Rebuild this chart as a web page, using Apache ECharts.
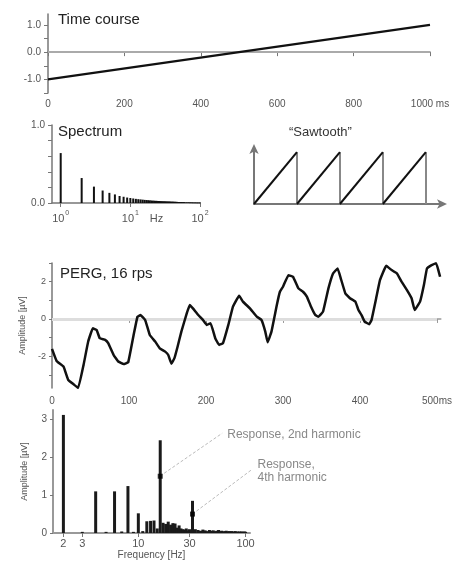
<!DOCTYPE html>
<html><head><meta charset="utf-8">
<script src="https://cdn.jsdelivr.net/npm/echarts@6/dist/echarts.min.js"></script>
<style>html,body{margin:0;padding:0;background:#fff}#c{width:455px;height:561px}</style>
</head><body><div id="c"></div>
<script>
// ---- Time course ----
const tcTime = [0, 1000];
const tcValue = [-1.0, 1.0];
const tcXTicks = [0, 200, 400, 600, 800, 1000];
const tcYTicks = [-1.5, -1, -0.5, 0, 0.5, 1];
const tcYLabels = [-1, 0, 1];

// ---- Spectrum (sawtooth harmonics) ----
const specFreq = [1,2,3,4,5,6,7,8,9,10,11,12,13,14,15,16,17,18,19,20,21,22,23,24,25,26,27,28,29,30,
  31,32,33,34,35,36,37,38,39,40,41,42,43,44,45,46,47,48,49,50,52,54,56,58,60,64,68,72,76,80,85,90,95,100];
const specAmp = [0.64,0.32,0.21,0.16,0.13,0.11,0.09,0.08,0.07,0.064,0.058,0.053,0.049,0.046,0.043,0.04,0.038,0.036,0.034,0.032,
  0.03,0.029,0.028,0.027,0.026,0.025,0.024,0.023,0.022,0.021,0.021,0.02,0.019,0.019,0.018,0.018,0.017,0.017,0.016,0.016,
  0.016,0.015,0.015,0.015,0.014,0.014,0.014,0.013,0.013,0.013,0.012,0.012,0.011,0.011,0.011,0.01,0.01,0.009,0.009,0.008,0.008,0.007,0.007,0.006];
const specXLabelVals = [1, 10, 23.7, 100];
const specXLabelText = ['{b|10}{s|0}', '{b|10}{s|1}', '{b|Hz}', '{b|10}{s|2}'];
const specXTicks = [1, 10, 100];
const specYTicks = [0, 0.2, 0.4, 0.6, 0.8, 1.0];
const specYLabels = [0, 1.0];

// ---- Sawtooth schematic ----
const sawStart = [0, 1, 2, 3];
const sawEnd = [1, 2, 3, 4];
const sawPeak = 1;

// ---- PERG, 16 rps ----
const pergTime = [0,6,15,21,28,34,41,47,53,58,62,69,73,80,86,93,99,106,111,115,121,127,134,140,147,151,155,159,163,168,
  175,179,183,190,196,201,206,212,217,222,229,235,243,248,257,266,272,277,280,285,292,296,300,307,313,320,326,331,336,342,
  346,352,359,365,371,375,381,387,394,398,402,406,412,415,421,426,434,441,448,454,461,467,471,478,483,487,493,499,504];
const pergValue = [-1.6,-2.25,-2.55,-3.26,-3.5,-3.7,-2.46,-1.21,-0.5,-0.59,-1.03,-1.12,-1.3,-1.93,-2.28,-2.42,-2.32,-0.86,0.12,0.21,
  -0.05,-0.86,-1.21,-1.57,-1.75,-1.93,-2.4,-2.1,-1.5,-0.68,
  0.3,0.75,0.57,0.21,-0.05,-0.32,-0.23,-1.03,-1.39,-1.3,-0.32,0.66,1.25,0.93,0.57,0.12,-0.05,-0.68,-1.25,-0.68,
  0.75,1.46,1.73,2.35,2.26,1.64,1.46,1.2,0.7,0.21,
  0.12,0.39,1.64,2.44,2.71,2.18,1.37,1.11,0.93,0.48,0.21,-0.14,-0.28,-0.05,1.11,2.09,2.85,2.62,2.44,2.0,1.55,1.11,0.48,0.93,1.82,2.71,2.89,2.98,2.26];
const pergXTicks = [0, 100, 200, 300, 400, 500];
const pergYTicks = [-3, -2, -1, 0, 1, 2, 3];
const pergYLabels = [-2, 0, 2];

// ---- PERG amplitude spectrum ----
const fftFreq = [2,3,4,5,6,7,8,9,10,11,12,13,14,15,16,17,18,19,20,21,22,23,24,25,26,27,28,29,30,31,32,
  34,36,38,40,42,44,46,48,50,52,54,56,58,60,62,64,66,68,70,72,74,76,78,80,82,84,86,88,90,92,94,96,98,100];
const fftAmp = [3.12,0.03,1.1,0.03,1.1,0.04,1.24,0.03,0.52,0.05,0.31,0.32,0.33,0.12,2.45,0.27,0.24,0.3,0.22,0.26,
  0.25,0.14,0.2,0.12,0.1,0.09,0.12,0.07,0.1,0.08,0.85,
  0.1,0.08,0.06,0.09,0.07,0.05,0.08,0.06,0.07,0.05,0.06,0.08,0.05,0.06,0.04,0.05,0.06,0.04,0.05,0.04,0.05,0.03,0.04,0.05,0.03,0.04,0.03,0.04,0.03,0.04,0.03,0.03,0.04,0.03];
const fftXTicks = [2, 3, 10, 30, 100];
const fftYTicks = [0, 1, 2, 3];
const harmonicFreq = [16, 32];
const harmonicMark = [1.5, 0.5];
const harmonicLabel = ['Response, 2nd harmonic', 'Response,\n4th harmonic'];

const FONT = 'Liberation Sans, Arial, sans-serif';
const AX = '#777';
const LBL = '#555';

function axisBase(extra) {
  return Object.assign({
    splitLine: {show: false},
    axisLine: {show: true, lineStyle: {color: AX, width: 1.5}},
    axisTick: {show: true, length: 4, lineStyle: {color: AX}},
    axisLabel: {color: LBL, fontSize: 10, fontFamily: FONT}
  }, extra);
}
function merge(a, b) { return Object.assign({}, a, b); }

function barRenderer(width, color) {
  return function (params, api) {
    const p0 = api.coord([api.value(0), 0]);
    const p1 = api.coord([api.value(0), api.value(1)]);
    return {type: 'rect', shape: {x: p0[0] - width / 2, y: p1[1], width: width, height: Math.max(p0[1] - p1[1], 0.8)},
      style: {fill: color}};
  };
}

const chart = echarts.init(document.getElementById('c'), null, {renderer: 'canvas'});

const titleStyle = {fontSize: 15, fontWeight: 'normal', color: '#222', fontFamily: FONT};

const option = {
  animation: false,
  backgroundColor: '#fff',
  title: [
    {text: 'Time course', left: 58, top: 12, padding: 0, textStyle: titleStyle},
    {text: 'Spectrum', left: 58, top: 124, padding: 0, textStyle: titleStyle},
    {text: '\u201CSawtooth\u201D', left: 289, top: 126, padding: 0, textStyle: merge(titleStyle, {fontSize: 13, color: '#333'})},
    {text: 'PERG, 16 rps', left: 60, top: 266, padding: 0, textStyle: titleStyle}
  ],
  grid: [
    {left: 48, top: 14, width: 382, height: 79},
    {left: 52, top: 125, width: 148, height: 78},
    {left: 254, top: 148, width: 189, height: 56},
    {left: 52, top: 263, width: 389, height: 125},
    {left: 53, top: 410, width: 197, height: 127}
  ],
  xAxis: [
    axisBase({gridIndex: 0, type: 'value', min: 0, max: 1000,
      axisTick: {show: true, length: 4, lineStyle: {color: AX}, customValues: tcXTicks},
      axisLabel: {color: LBL, fontSize: 10, fontFamily: FONT, margin: 6, customValues: tcXTicks,
        formatter: v => v === 1000 ? '1000 ms' : String(v)}}),
    axisBase({gridIndex: 1, type: 'log', logBase: 10, min: 0.75, max: 100,
      axisTick: {show: true, length: 4, lineStyle: {color: AX}, customValues: specXTicks},
      axisLabel: {color: LBL, fontSize: 10, fontFamily: FONT, margin: 6, customValues: specXLabelVals,
        rich: {b: {fontSize: 11, color: LBL, fontFamily: FONT, padding: [4, 0, 0, 0]}, s: {fontSize: 7, color: LBL, fontFamily: FONT, padding: [0, 0, 6, 1]}},
        formatter: v => { const i = specXLabelVals.findIndex(s => Math.abs(s - v) < 1e-6 * Math.max(1, s)); return i >= 0 ? specXLabelText[i] : ''; }}}),
    {gridIndex: 2, type: 'value', min: 0, max: 4.4, splitLine: {show: false},
      axisLine: {show: true, onZero: false, symbol: ['none', 'arrow'], symbolSize: [7, 10], symbolOffset: [0, 4], lineStyle: {color: '#777', width: 2}},
      axisTick: {show: false}, axisLabel: {show: false}},
    axisBase({gridIndex: 3, type: 'value', min: 0, max: 505,
      axisLine: {show: true, lineStyle: {color: '#999', width: 1.5}},
      axisTick: {show: true, length: 4, lineStyle: {color: '#999'}, customValues: pergXTicks},
      axisLabel: {color: LBL, fontSize: 10, fontFamily: FONT, margin: 8, customValues: pergXTicks,
        formatter: v => v === 500 ? '500ms' : String(v)}}),
    axisBase({gridIndex: 4, type: 'log', logBase: 10, min: 1.6, max: 110,
      name: 'Frequency [Hz]', nameLocation: 'middle', nameGap: 17,
      nameTextStyle: {color: LBL, fontSize: 10, fontFamily: FONT},
      axisLine: {show: true, lineStyle: {color: '#999', width: 2}},
      axisTick: {show: true, length: 4, lineStyle: {color: AX}, customValues: fftXTicks},
      axisLabel: {color: LBL, fontSize: 11, fontFamily: FONT, margin: 5, customValues: fftXTicks,
        formatter: v => String(Math.round(v))}})
  ],
  yAxis: [
    axisBase({gridIndex: 0, type: 'value', min: -1.5, max: 1.4,
      axisTick: {show: true, length: 4, lineStyle: {color: AX}, customValues: tcYTicks},
      axisLabel: {color: LBL, fontSize: 10, fontFamily: FONT, margin: 7, customValues: tcYLabels,
        formatter: v => v.toFixed(1)}}),
    axisBase({gridIndex: 1, type: 'value', min: 0, max: 1.0,
      axisTick: {show: true, length: 4, lineStyle: {color: AX}, customValues: specYTicks},
      axisLabel: {color: LBL, fontSize: 10, fontFamily: FONT, margin: 7, customValues: specYLabels,
        formatter: v => v.toFixed(1)}}),
    {gridIndex: 2, type: 'value', min: 0, max: 1.08, splitLine: {show: false},
      axisLine: {show: true, onZero: false, symbol: ['none', 'arrow'], symbolSize: [7, 10], symbolOffset: [0, 4], lineStyle: {color: '#777', width: 2}},
      axisTick: {show: false}, axisLabel: {show: false}},
    axisBase({gridIndex: 3, type: 'value', min: -3.7, max: 3,
      name: 'Amplitude [\u00B5V]', nameLocation: 'middle', nameGap: 24, nameRotate: 90,
      nameTextStyle: {color: LBL, fontSize: 9, fontFamily: FONT},
      axisTick: {show: true, length: 3, lineStyle: {color: AX}, customValues: pergYTicks},
      axisLabel: {color: LBL, fontSize: 9, fontFamily: FONT, margin: 6, customValues: pergYLabels,
        formatter: v => String(v)}}),
    axisBase({gridIndex: 4, type: 'value', min: 0, max: 3.25,
      name: 'Amplitude [\u00B5V]', nameLocation: 'middle', nameGap: 24, nameRotate: 90,
      nameTextStyle: {color: LBL, fontSize: 9, fontFamily: FONT},
      axisLine: {show: true, lineStyle: {color: '#999', width: 2}},
      axisTick: {show: true, length: 3, lineStyle: {color: AX}, customValues: fftYTicks},
      axisLabel: {color: LBL, fontSize: 10, fontFamily: FONT, margin: 6, customValues: fftYTicks,
        formatter: v => String(v)}})
  ],
  series: [
    {type: 'line', xAxisIndex: 0, yAxisIndex: 0, symbol: 'none',
      data: tcTime.map((t, i) => [t, tcValue[i]]),
      lineStyle: {color: '#111', width: 2.2}, z: 5,
      markLine: {silent: true, symbol: 'none', label: {show: false},
        lineStyle: {color: '#aaa', width: 2, type: 'solid'}, data: [{yAxis: 0}]}},
    {type: 'custom', xAxisIndex: 1, yAxisIndex: 1,
      data: specFreq.map((f, i) => [f, specAmp[i]]),
      renderItem: barRenderer(2, '#111')},
    {type: 'lines', coordinateSystem: 'cartesian2d', xAxisIndex: 2, yAxisIndex: 2,
      data: sawEnd.map(e => ({coords: [[e, 0], [e, sawPeak]]})),
      lineStyle: {color: '#888', width: 2, opacity: 1}},
    {type: 'lines', coordinateSystem: 'cartesian2d', xAxisIndex: 2, yAxisIndex: 2,
      data: sawStart.map((s, i) => ({coords: [[s, 0], [sawEnd[i], sawPeak]]})),
      lineStyle: {color: '#111', width: 2, opacity: 1}, z: 4},
    {type: 'line', xAxisIndex: 3, yAxisIndex: 3, symbol: 'none', smooth: 0.08,
      data: pergTime.map((t, i) => [t, pergValue[i]]),
      lineStyle: {color: '#111', width: 2.5, join: 'round'}, z: 5,
      markLine: {silent: true, symbol: 'none', label: {show: false},
        lineStyle: {color: '#ddd', width: 3, type: 'solid'}, data: [[{xAxis: 0, yAxis: 0}, {xAxis: 500, yAxis: 0}]]}},
    {type: 'custom', xAxisIndex: 4, yAxisIndex: 4,
      data: fftFreq.map((f, i) => [f, fftAmp[i]]),
      renderItem: barRenderer(3, '#1a1a1a')},
    {type: 'scatter', xAxisIndex: 4, yAxisIndex: 4, symbol: 'rect', symbolSize: 5,
      itemStyle: {color: '#000'}, z: 6,
      data: harmonicFreq.map((f, i) => [f, harmonicMark[i]])}
  ]
};
chart.setOption(option);

// leader lines + labels anchored to the harmonic markers
const graphics = [];
const offsets = [[62, -43], [60, -45]];
harmonicFreq.forEach((f, i) => {
  const p = chart.convertToPixel({xAxisIndex: 4, yAxisIndex: 4}, [f, harmonicMark[i]]);
  const e = [p[0] + offsets[i][0], p[1] + offsets[i][1]];
  graphics.push({type: 'line', shape: {x1: p[0] + 4, y1: p[1] - 3, x2: e[0], y2: e[1]},
    style: {stroke: '#bbb', lineWidth: 1, lineDash: [3, 2]}, z: 10});
  graphics.push({type: 'text', x: e[0] + 5, y: i === 0 ? e[1] + 1 : e[1] + 2,
    style: {text: harmonicLabel[i], fill: '#888', font: '12px ' + FONT, textVerticalAlign: 'middle', lineHeight: 13}, z: 10});
});
chart.setOption({graphic: graphics});
</script>
</body></html>
